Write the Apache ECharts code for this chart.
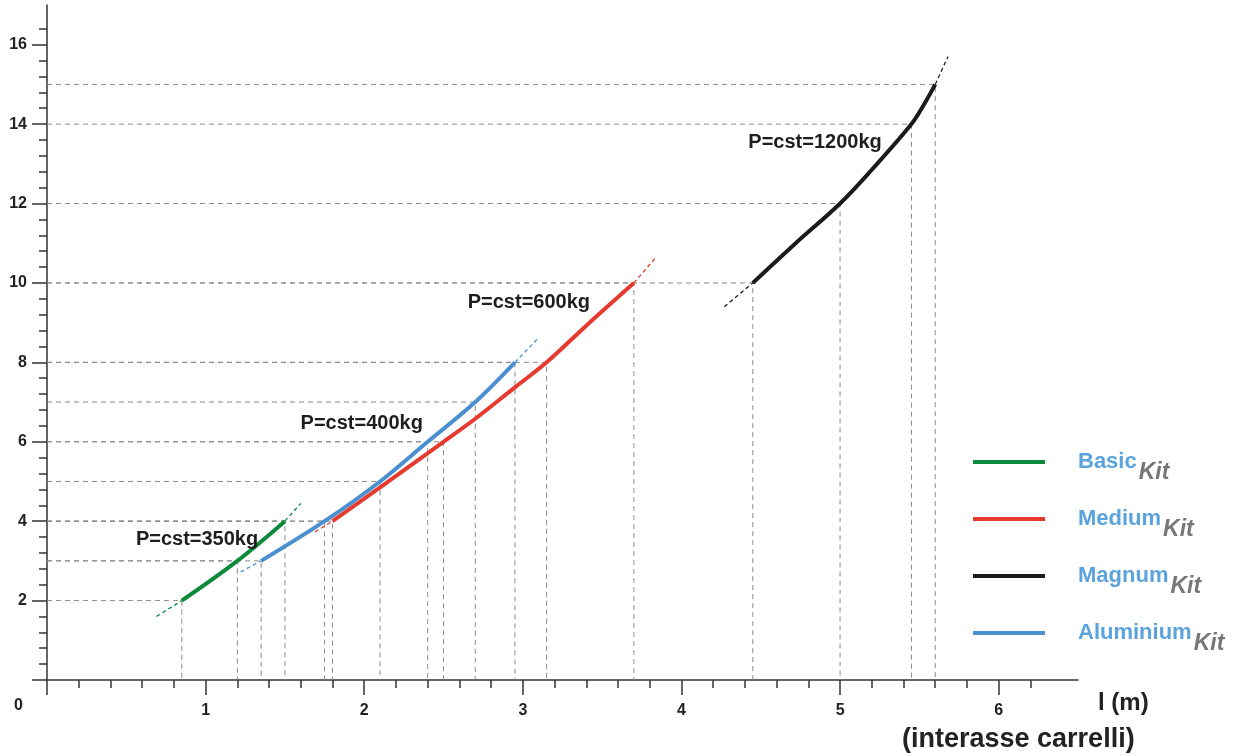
<!DOCTYPE html>
<html>
<head>
<meta charset="utf-8">
<script src="https://cdn.jsdelivr.net/npm/echarts@6/dist/echarts.min.js"></script>
<style>
  html, body { margin: 0; padding: 0; background: #fff; }
  #chart { width: 1237px; height: 756px; }
</style>
</head>
<body>
<div id="chart"></div>
<script>
// kits (legend order)
const kitNames = ['Basic', 'Medium', 'Magnum', 'Aluminium']
const kitColors = ['#0e8a3c', '#e63a2e', '#1b1b1b', '#4a8fd0']

// curves: [l (m), value]
const basicPts = [[0.85, 2], [1.2, 3], [1.5, 4]]
const mediumPts = [[1.8, 4], [2.1, 4.85], [2.5, 6], [2.7, 6.58], [2.95, 7.37], [3.15, 8], [3.42, 9], [3.7, 10]]
const magnumPts = [[4.45, 10], [4.72, 11], [5, 12], [5.2, 12.85], [5.45, 14], [5.53, 14.5], [5.6, 15]]
const aluPts = [[1.35, 3], [1.75, 4], [2.1, 5], [2.4, 6], [2.7, 7], [2.95, 8]]

// thin dashed prolongations before / after each curve
const basicExt = [[[0.69, 1.6], [0.85, 2]], [[1.5, 4], [1.6, 4.45]]]
const mediumExt = [[[1.69, 3.73], [1.8, 4]], [[3.7, 10], [3.84, 10.65]]]
const magnumExt = [[[4.27, 9.4], [4.45, 10]], [[5.6, 15], [5.68, 15.7]]]
const aluExt = [[[1.22, 2.72], [1.35, 3]], [[2.95, 8], [3.1, 8.62]]]

// grey dashed reference lines down to the axes
const guidePts = [[0.85, 2], [1.2, 3], [1.35, 3], [1.5, 4], [1.75, 4], [1.8, 4], [2.1, 5], [2.4, 6], [2.5, 6],
  [2.7, 7], [2.95, 8], [3.15, 8], [3.7, 10], [4.45, 10], [5, 12], [5.45, 14], [5.6, 15]]

// load annotations
const loadLabels = ['P=cst=350kg', 'P=cst=400kg', 'P=cst=600kg', 'P=cst=1200kg']
const loadPos = [[0.946, 3.53], [1.984, 6.45], [3.038, 9.5], [4.842, 13.53]]

// axis ticks
const xMajor = [0, 1, 2, 3, 4, 5, 6]
const yMajor = [0, 2, 4, 6, 8, 10, 12, 14, 16]
const xMinor = []
for (let i = 1; i <= 31; i++) { if (i % 5) xMinor.push(+(i * 0.2).toFixed(1)) }
const yMinor = []
for (let i = 1; i <= 41; i++) { if (i % 5) yMinor.push(+(i * 0.4).toFixed(1)) }

const FONT = '"Liberation Sans", Arial, sans-serif'
const AXIS_COLOR = '#333'

const chart = echarts.init(document.getElementById('chart'))

const series = []

guidePts.forEach((p) => {
  series.push({
    type: 'line',
    silent: true,
    symbol: 'none',
    z: 1,
    data: [[0, p[1]], p, [p[0], 0]],
    lineStyle: { color: '#8a8a8a', width: 1, type: [5, 4] }
  })
})

const allPts = [basicPts, mediumPts, magnumPts, aluPts]
const allExt = [basicExt, mediumExt, magnumExt, aluExt]

kitNames.forEach((name, k) => {
  allExt[k].forEach((seg) => {
    series.push({
      type: 'line',
      silent: true,
      symbol: 'none',
      z: 3,
      data: seg,
      lineStyle: { color: kitColors[k], width: 1.3, type: [4, 3] }
    })
  })
  series.push({
    name: name,
    type: 'line',
    symbol: 'none',
    smooth: 0.35,
    z: 4,
    color: kitColors[k],
    data: allPts[k],
    lineStyle: { color: kitColors[k], width: 4 }
  })
})

// P=cst labels placed in data coordinates
series.push({
  type: 'custom',
  silent: true,
  z: 6,
  data: loadPos,
  renderItem: (params, api) => {
    const pt = api.coord([api.value(0), api.value(1)])
    return {
      type: 'text',
      x: pt[0],
      y: pt[1],
      style: {
        text: loadLabels[params.dataIndex],
        font: 'bold 20px ' + FONT,
        fill: '#1e1e1e',
        align: 'center',
        verticalAlign: 'middle'
      }
    }
  }
})

const tickStyle = { color: AXIS_COLOR, width: 1.5 }

chart.setOption({
  animation: false,
  grid: { left: 47, right: 159, top: 5, bottom: 76, containLabel: false },
  legend: {
    data: kitNames,
    orient: 'vertical',
    left: 973,
    top: 440,
    padding: 0,
    itemWidth: 72,
    itemHeight: 4,
    itemGap: 13,
    icon: 'rect',
    selectedMode: false,
    formatter: (n) => '{a|' + n + '}{b|Kit}',
    textStyle: {
      rich: {
        a: { fontFamily: FONT, fontSize: 22, fontWeight: 'bold', color: '#5ba3dc', lineHeight: 24, padding: [0, 0, 0, 28] },
        b: { fontFamily: FONT, fontSize: 23, fontWeight: 'bold', fontStyle: 'italic', color: '#777', lineHeight: 24, padding: [21, 0, 0, 2] }
      }
    }
  },
  xAxis: [{
    type: 'value',
    min: 0,
    max: 6.5,
    interval: 1,
    splitLine: { show: false },
    axisLine: { onZero: false, lineStyle: tickStyle },
    axisTick: { length: 15, customValues: xMajor, lineStyle: tickStyle },
    axisLabel: {
      margin: 23,
      customValues: xMajor.slice(1),
      fontFamily: FONT, fontSize: 16, fontWeight: 'bold', color: '#222'
    }
  }, {
    type: 'value',
    position: 'bottom',
    min: 0,
    max: 6.5,
    interval: 1,
    splitLine: { show: false },
    axisLine: { show: false },
    axisTick: { length: 8, customValues: xMinor, lineStyle: tickStyle },
    axisLabel: { show: false }
  }],
  yAxis: [{
    type: 'value',
    min: 0,
    max: 17,
    interval: 2,
    splitLine: { show: false },
    axisLine: { onZero: false, lineStyle: tickStyle },
    axisTick: { length: 15, customValues: yMajor, lineStyle: tickStyle },
    axisLabel: {
      margin: 20,
      customValues: yMajor.slice(1),
      fontFamily: FONT, fontSize: 16, fontWeight: 'bold', color: '#222'
    }
  }, {
    type: 'value',
    position: 'left',
    min: 0,
    max: 17,
    interval: 2,
    splitLine: { show: false },
    axisLine: { show: false },
    axisTick: { length: 8, customValues: yMinor, lineStyle: tickStyle },
    axisLabel: { show: false }
  }],
  graphic: [
    { type: 'text', left: 14, top: 698, style: { text: '0', font: 'bold 16px ' + FONT, fill: '#222' } },
    { type: 'text', left: 1098, top: 691, style: { text: 'l (m)', font: 'bold 24px ' + FONT, fill: '#222' } },
    { type: 'text', left: 902, top: 726, style: { text: '(interasse carrelli)', font: 'bold 27px ' + FONT, fill: '#222' } }
  ],
  series: series
})
</script>
</body>
</html>
